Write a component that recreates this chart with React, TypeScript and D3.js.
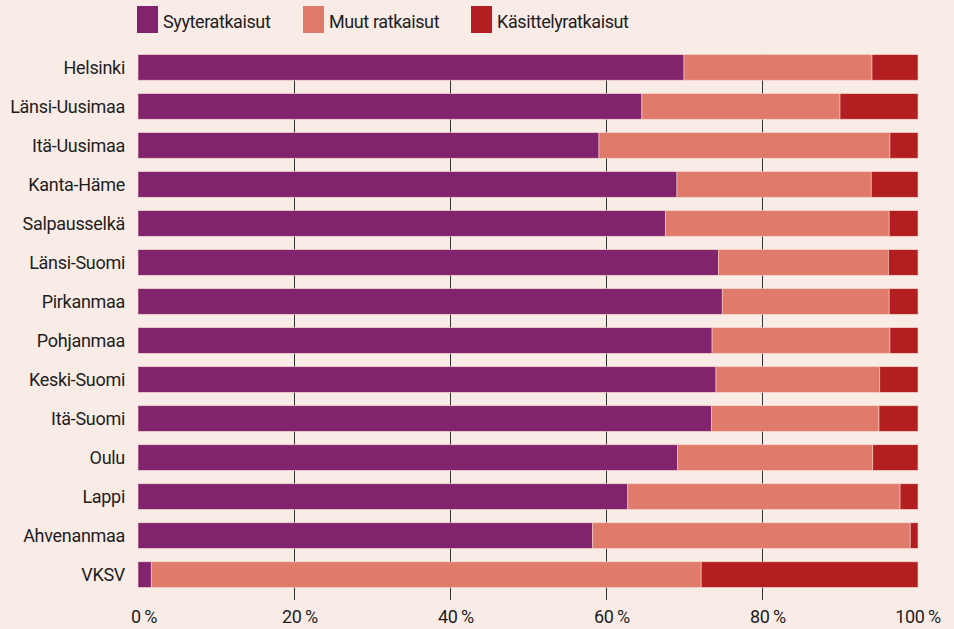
import React from "react";
import * as d3 from "d3";

const categories = [
  "Helsinki", "Länsi-Uusimaa", "Itä-Uusimaa", "Kanta-Häme", "Salpausselkä",
  "Länsi-Suomi", "Pirkanmaa", "Pohjanmaa", "Keski-Suomi", "Itä-Suomi",
  "Oulu", "Lappi", "Ahvenanmaa", "VKSV",
];
const syyteratkaisut = [70.0, 64.6, 59.1, 69.1, 67.6, 74.4, 74.9, 73.6, 74.1, 73.5, 69.2, 62.8, 58.3, 1.7];
const muutRatkaisut = [24.1, 25.4, 37.3, 24.9, 28.7, 21.8, 21.4, 22.8, 21.0, 21.5, 25.0, 34.9, 40.7, 70.5];
const kasittelyratkaisut = [5.9, 10.0, 3.6, 6.0, 3.7, 3.8, 3.7, 3.6, 4.9, 5.0, 5.8, 2.3, 1.0, 27.8];
const seriesNames = ["Syyteratkaisut", "Muut ratkaisut", "Käsittelyratkaisut"];
const seriesColors = ["#82236e", "#e07b6b", "#b31f20"];
const ticks = [0, 20, 40, 60, 80, 100];

const W = 954;
const H = 629;
const FONT = "'Roboto', 'DejaVu Sans Condensed', sans-serif";

export default function App() {
  const x = d3.scaleLinear().domain([0, 100]).range([138, 918]);
  const y = d3
    .scaleBand<string>()
    .domain(categories)
    .range([48, 48 + 39 * categories.length])
    .paddingInner(0.345)
    .paddingOuter(0.17);

  const rows = categories.map((c, i) => ({
    "0": syyteratkaisut[i],
    "1": muutRatkaisut[i],
    "2": kasittelyratkaisut[i],
    c,
  }));
  const stacked = d3.stack<any>().keys(["0", "1", "2"])(rows);

  const gridTop = y(categories[0])!;
  const gridBottom = 600;
  const legendX = [137, 303, 471];

  return (
    <svg
      width={W}
      height={H}
      style={{ position: "absolute", left: 0, top: 0, background: "#f9ebe6" }}
    >
      <rect x={0} y={0} width={W} height={H} fill="#f9ebe6" />
      {seriesNames.map((n, i) => (
        <g key={n}>
          <rect x={legendX[i]} y={6} width={21} height={27} fill={seriesColors[i]} />
          <text x={legendX[i] + 26} y={28} fontFamily={FONT} fontSize={18} fill="#1e1e1e" letterSpacing={-0.4}>
            {n}
          </text>
        </g>
      ))}
      {ticks.slice(1, -1).map((t) => (
        <line
          key={t}
          x1={Math.round(x(t)) + 0.5}
          x2={Math.round(x(t)) + 0.5}
          y1={gridTop}
          y2={gridBottom}
          stroke="#333"
          strokeWidth={1}
        />
      ))}
      {stacked.map((s, si) =>
        s.map((d, i) => (
          <rect
            key={si + "-" + i}
            x={x(d[0])}
            y={y(categories[i])}
            width={x(d[1]) - x(d[0])}
            height={y.bandwidth()}
            fill={seriesColors[si]}
            stroke="#f3d3ca"
            strokeWidth={0.6}
          />
        ))
      )}
      {categories.map((c) => (
        <text
          key={c}
          x={125}
          y={y(c)! + y.bandwidth() / 2}
          dy="0.36em"
          textAnchor="end"
          fontFamily={FONT}
          fontSize={18}
          fill="#1e1e1e"
          letterSpacing={-0.3}
        >
          {c}
        </text>
      ))}
      {ticks.map((t) => (
        <text
          key={t}
          x={x(t) + (t === 100 ? 0 : 6)}
          y={623}
          textAnchor="middle"
          fontFamily={FONT}
          fontSize={18}
          fill="#1e1e1e"
          letterSpacing={-0.3}
        >
          {t + "\u2009%"}
        </text>
      ))}
    </svg>
  );
}
